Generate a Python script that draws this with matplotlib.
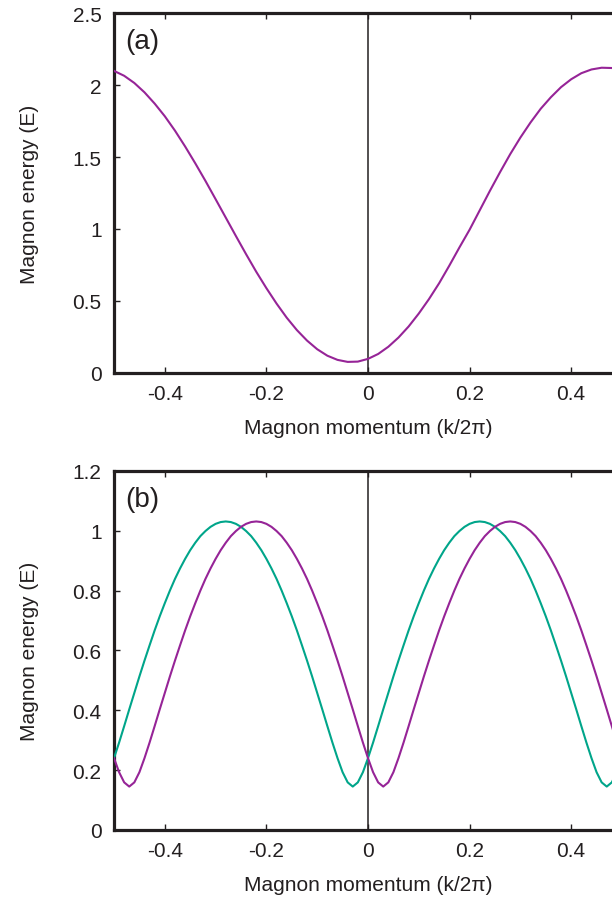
import numpy as np
import matplotlib
matplotlib.use("Agg")
import matplotlib.pyplot as plt

# ---- data ----
k_a = [-0.50, -0.48, -0.46, -0.44, -0.42, -0.40, -0.38, -0.36, -0.34, -0.32,
       -0.30, -0.28, -0.26, -0.24, -0.22, -0.20, -0.18, -0.16, -0.14, -0.12,
       -0.10, -0.08, -0.06, -0.04, -0.02, 0.00, 0.02, 0.04, 0.06, 0.08,
       0.10, 0.12, 0.14, 0.16, 0.18, 0.20, 0.22, 0.24, 0.26, 0.28,
       0.30, 0.32, 0.34, 0.36, 0.38, 0.40, 0.42, 0.44, 0.46, 0.48, 0.50]
E_a = [2.098, 2.064, 2.014, 1.949, 1.871, 1.783, 1.683, 1.573, 1.456, 1.334,
       1.207, 1.079, 0.951, 0.825, 0.703, 0.589, 0.482, 0.384, 0.298, 0.225,
       0.165, 0.120, 0.091, 0.077, 0.079, 0.098, 0.132, 0.182, 0.246, 0.323,
       0.413, 0.513, 0.623, 0.745, 0.872, 0.995, 1.130, 1.265, 1.395, 1.520,
       1.635, 1.740, 1.835, 1.915, 1.985, 2.040, 2.082, 2.108, 2.120, 2.118, 2.100]

k_b = [round(-0.50 + 0.01 * i, 2) for i in range(101)]
E_b_purple = [
    0.240, 0.193, 0.159, 0.145, 0.159, 0.193, 0.240, 0.292, 0.347, 0.403,
    0.458, 0.513, 0.566, 0.617, 0.667, 0.714, 0.758, 0.800, 0.839, 0.874,
    0.906, 0.935, 0.960, 0.982, 0.999, 1.013, 1.023, 1.029, 1.031, 1.029,
    1.023, 1.013, 0.999, 0.982, 0.960, 0.935, 0.906, 0.874, 0.839, 0.800,
    0.758, 0.714, 0.667, 0.617, 0.566, 0.513, 0.458, 0.403, 0.347, 0.292,
    0.240,
    0.193, 0.159, 0.145, 0.159, 0.193, 0.240, 0.292, 0.347, 0.403,
    0.458, 0.513, 0.566, 0.617, 0.667, 0.714, 0.758, 0.800, 0.839, 0.874,
    0.906, 0.935, 0.960, 0.982, 0.999, 1.013, 1.023, 1.029, 1.031, 1.029,
    1.023, 1.013, 0.999, 0.982, 0.960, 0.935, 0.906, 0.874, 0.839, 0.800,
    0.758, 0.714, 0.667, 0.617, 0.566, 0.513, 0.458, 0.403, 0.347, 0.292,
    0.240]
E_b_teal = E_b_purple[::-1]

xticks = [-0.4, -0.2, 0, 0.2, 0.4]
xticklabels = ["-0.4", "-0.2", "0", "0.2", "0.4"]
yticks_a = [0, 0.5, 1, 1.5, 2, 2.5]
yticklabels_a = ["0", "0.5", "1", "1.5", "2", "2.5"]
yticks_b = [0, 0.2, 0.4, 0.6, 0.8, 1, 1.2]
yticklabels_b = ["0", "0.2", "0.4", "0.6", "0.8", "1", "1.2"]

PURPLE = "#962497"
TEAL = "#00a58a"
INK = "#231f20"

plt.rcParams['font.family'] = ['Liberation Sans', 'DejaVu Sans']

fig = plt.figure(figsize=(6.12, 9.04), dpi=100)
ax_a = fig.add_axes([0.1863, 0.5863, 0.830, 0.3982])
ax_b = fig.add_axes([0.1863, 0.0808, 0.830, 0.3972])


def style(ax, yticks, ylabels, ymax):
    ax.set_xlim(-0.5, 0.5)
    ax.set_ylim(0, ymax)
    ax.set_xticks(xticks)
    ax.set_xticklabels(xticklabels)
    ax.set_yticks(yticks)
    ax.set_yticklabels(ylabels)
    for s in ax.spines.values():
        s.set_linewidth(2.3)
        s.set_color(INK)
    ax.tick_params(direction="in", top=True, right=True, length=4.5, width=1.0,
                   labelsize=15, colors=INK)
    ax.tick_params(axis="x", pad=8)
    ax.tick_params(axis="y", pad=9)
    ax.axvline(0, color=INK, lw=1.1, zorder=1)
    ax.set_xlabel("Magnon momentum (k/2π)", fontsize=15, color=INK, labelpad=11)
    ax.set_ylabel("Magnon energy (E)", fontsize=15, color=INK, labelpad=24)


style(ax_a, yticks_a, yticklabels_a, 2.5)
ax_a.plot(k_a, E_a, color=PURPLE, lw=1.5, zorder=3)
ax_a.text(0.022, 0.957, "(a)", transform=ax_a.transAxes, fontsize=20,
          ha="left", va="top", color=INK)

style(ax_b, yticks_b, yticklabels_b, 1.2)
ax_b.plot(k_b, E_b_teal, color=TEAL, lw=1.5, zorder=3)
ax_b.plot(k_b, E_b_purple, color=PURPLE, lw=1.5, zorder=3)
ax_b.text(0.022, 0.957, "(b)", transform=ax_b.transAxes, fontsize=20,
          ha="left", va="top", color=INK)

fig.savefig("out.png", dpi=100)
